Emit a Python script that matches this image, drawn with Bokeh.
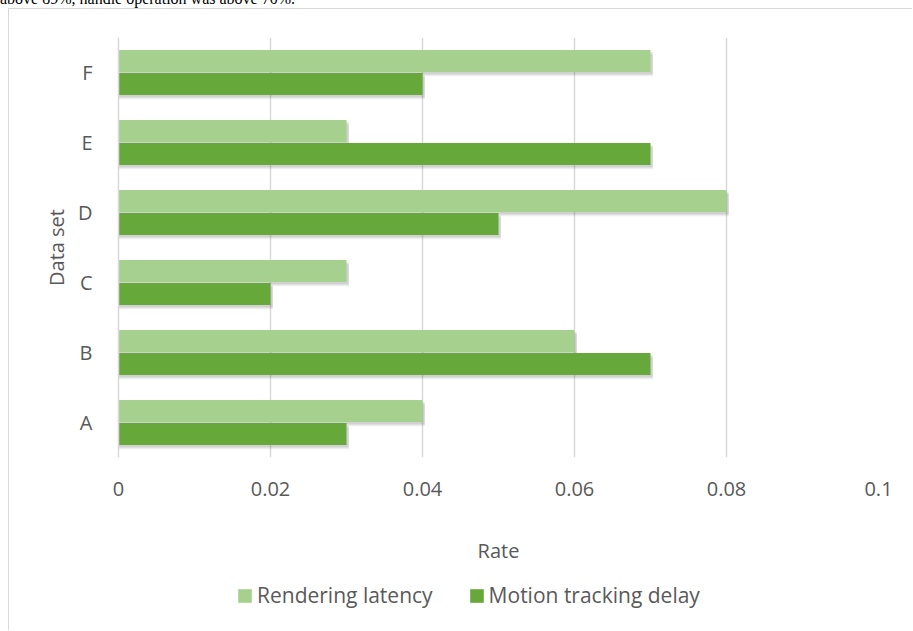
from bokeh.plotting import figure
from bokeh.layouts import column
from bokeh.models import (ColumnDataSource, FactorRange, Range1d, Legend, LegendItem,
                          FixedTicker, Div)
from bokeh.transform import dodge
from bokeh.embed import file_html
from bokeh.resources import INLINE

categories = ["A", "B", "C", "D", "E", "F"]
rendering_latency = [0.04, 0.06, 0.03, 0.08, 0.03, 0.07]
motion_tracking_delay = [0.03, 0.07, 0.02, 0.05, 0.07, 0.04]
series_names = ["Rendering latency", "Motion tracking delay"]
x_ticks = [0, 0.02, 0.04, 0.06, 0.08, 0.1]
x_tick_labels = ["0", "0.02", "0.04", "0.06", "0.08", "0.1"]
x_title = "Rate"
y_title = "Data set"
top_text = "above 89%, handle operation was above 70%."

FONT = "Open Sans"
TXT = "#595959"
LIGHT = "#A5D08D"
DARK = "#67A83B"
GRID = "#D9D9D9"
BORDER = {"border-left": "1px solid #D9D9D9"}

src = ColumnDataSource(dict(
    cat=categories,
    rl=rendering_latency,
    md=motion_tracking_delay,
    rl_sh=[v + 0.0003 for v in rendering_latency],
    md_sh=[v + 0.0003 for v in motion_tracking_delay],
))

p = figure(width=904, height=566, output_backend="svg", toolbar_location=None,
           y_range=FactorRange(factors=categories), x_range=Range1d(0, 0.1),
           min_border_left=109, min_border_right=35, min_border_top=28, min_border_bottom=118)
p.outline_line_color = None
p.background_fill_color = "white"
p.border_fill_color = "white"

# soft shadows
for off, a in ((0.06, 0.12), (0.035, 0.22)):
    p.hbar(y=dodge("cat", 0.165 - off, range=p.y_range), left=0, right="rl_sh", height=0.315,
           source=src, fill_color="#6f6f6f", fill_alpha=a, line_color=None)
    p.hbar(y=dodge("cat", -0.165 - off, range=p.y_range), left=0, right="md_sh", height=0.315,
           source=src, fill_color="#6f6f6f", fill_alpha=a, line_color=None)

p.hbar(y=dodge("cat", 0.165, range=p.y_range), left=0, right="rl", height=0.315,
       source=src, fill_color=LIGHT, line_color=None)
p.hbar(y=dodge("cat", -0.165, range=p.y_range), left=0, right="md", height=0.315,
       source=src, fill_color=DARK, line_color=None)

# axes
p.xaxis.ticker = FixedTicker(ticks=x_ticks)
p.xaxis.major_label_overrides = {t: s for t, s in zip(x_ticks, x_tick_labels)}
p.xaxis.axis_line_color = None
p.xaxis.major_tick_line_color = None
p.xaxis.minor_tick_line_color = None
p.xaxis.major_label_standoff = 18
p.xaxis.axis_label = x_title
p.xaxis.axis_label_standoff = 38

p.yaxis.axis_line_color = GRID
p.yaxis.axis_line_width = 1.5
p.yaxis.major_tick_line_color = None
p.yaxis.minor_tick_line_color = None
p.yaxis.major_label_standoff = 20
p.yaxis.axis_label = y_title
p.yaxis.axis_label_standoff = 5

for ax in (p.xaxis[0], p.yaxis[0]):
    ax.major_label_text_font = FONT
    ax.major_label_text_font_size = "20px"
    ax.major_label_text_color = TXT
    ax.axis_label_text_font = FONT
    ax.axis_label_text_font_size = "20px"
    ax.axis_label_text_color = TXT
    ax.axis_label_text_font_style = "normal"

p.xgrid.ticker = FixedTicker(ticks=x_ticks)
p.xgrid.grid_line_color = GRID
p.xgrid.grid_line_width = 1.5
p.ygrid.grid_line_color = None

p.margin = (0, 0, 0, 8)
p.styles = {"border-top": "1px solid #D9D9D9", "border-left": "1px solid #D9D9D9"}

# legend strip: same series, placed outside its visible ranges so only the legend shows
lg = figure(width=904, height=56, output_backend="svg", toolbar_location=None,
            x_range=Range1d(1, 2), y_range=Range1d(1, 2),
            x_axis_location=None, y_axis_location=None,
            min_border_left=0, min_border_right=0, min_border_top=0, min_border_bottom=0)
lg.outline_line_color = None
lg.grid.visible = False
lg.border_fill_color = "white"
e1 = lg.hbar(y="rl", left=0, right="rl", height=0.01, source=src,
             fill_color=LIGHT, line_color=None)
e2 = lg.hbar(y="md", left=0, right="md", height=0.01, source=src,
             fill_color=DARK, line_color=None)
legend = Legend(items=[LegendItem(label=series_names[0], renderers=[e1]),
                       LegendItem(label=series_names[1], renderers=[e2])],
                orientation="horizontal", location=(118, 21))
legend.glyph_width = 17
legend.glyph_height = 17
legend.label_standoff = 4
legend.spacing = 35
legend.padding = 0
legend.margin = 0
legend.border_line_color = None
legend.background_fill_alpha = 0
legend.label_text_font = FONT
legend.label_text_font_size = "21px"
legend.label_text_color = TXT
lg.add_layout(legend)
lg.margin = (0, 0, 0, 8)
lg.styles = BORDER

top_div = Div(text=top_text, width=913, height=17, margin=(-9, 0, 0, 0),
              styles={"font-family": "'Liberation Serif', 'Times New Roman', serif",
                      "font-size": "16px", "line-height": "16px", "color": "black",
                      "white-space": "nowrap"})

root = column(top_div, p, lg, spacing=0)
open("out.html", "w").write(file_html(root, INLINE))
